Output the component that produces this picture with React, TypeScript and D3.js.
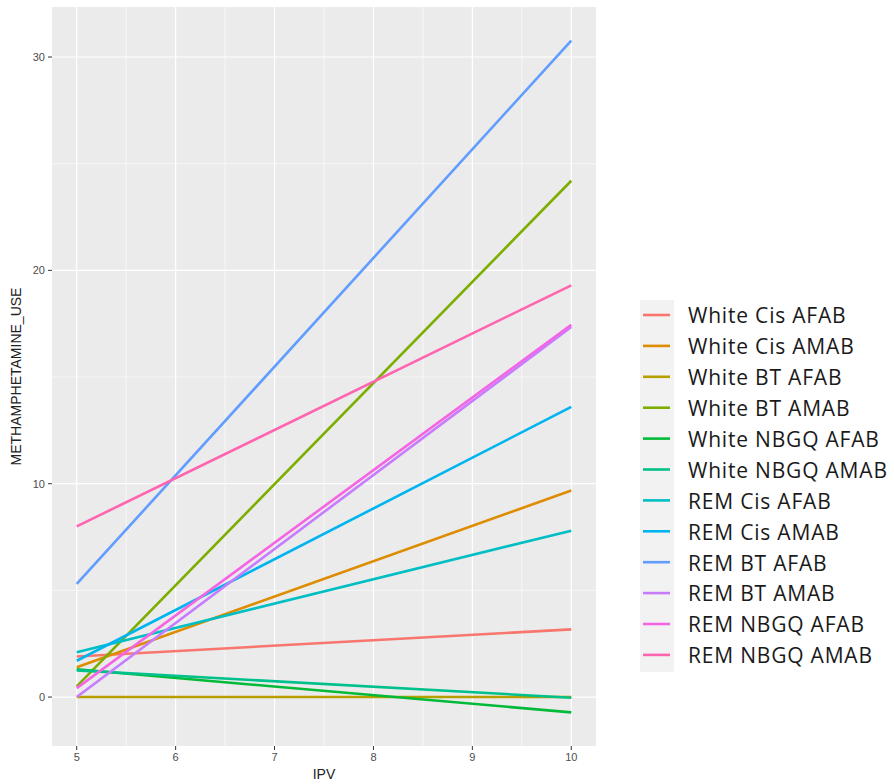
import React from "react";
import * as d3 from "d3";

const groups = [
  "White Cis AFAB",
  "White Cis AMAB",
  "White BT AFAB",
  "White BT AMAB",
  "White NBGQ AFAB",
  "White NBGQ AMAB",
  "REM Cis AFAB",
  "REM Cis AMAB",
  "REM BT AFAB",
  "REM BT AMAB",
  "REM NBGQ AFAB",
  "REM NBGQ AMAB",
];
const colors = [
  "#F8766D", "#DE8C00", "#B79F00", "#7CAE00", "#00BA38", "#00C08B",
  "#00BFC4", "#00B4F0", "#619CFF", "#C77CFF", "#F564E3", "#FF64B0",
];
const ipvValues = [5, 10];
const valuesAt5 = [1.9, 1.4, 0.0, 0.5, 1.3, 1.25, 2.1, 1.7, 5.3, 0.0, 0.42, 8.0];
const valuesAt10 = [3.17, 9.68, 0.0, 24.2, -0.72, -0.03, 7.8, 13.6, 30.77, 17.35, 17.45, 19.3];
const xTicks = [5, 6, 7, 8, 9, 10];
const yTicks = [0, 10, 20, 30];

export default function App() {
  const W = 894, H = 784;
  const left = 52, right = 596, top = 7, bottom = 746;
  const x = d3.scaleLinear().domain([4.75, 10.25]).range([left, right]);
  const yMin = -0.72, yMax = 30.77;
  const pad = (yMax - yMin) * 0.05;
  const y = d3.scaleLinear().domain([yMin - pad, yMax + pad]).range([bottom, top]);
  const line = d3.line<[number, number]>().x((d) => x(d[0])).y((d) => y(d[1]));
  const xMinor = [5.5, 6.5, 7.5, 8.5, 9.5];
  const yMinor = [-5, 5, 15, 25].filter((v) => y(v) > top && y(v) < bottom);

  const legX = 640, legY = 300, rowH = 30.9;
  return (
    <svg width={W} height={H} style={{ position: "absolute", left: 0, top: 0, background: "#fff" }}>
      <rect x={left} y={top} width={right - left} height={bottom - top} fill="#EBEBEB" />
      {xMinor.map((v) => (
        <line key={"xm" + v} x1={x(v)} x2={x(v)} y1={top} y2={bottom} stroke="#fff" strokeWidth={0.6} />
      ))}
      {yMinor.map((v) => (
        <line key={"ym" + v} x1={left} x2={right} y1={y(v)} y2={y(v)} stroke="#fff" strokeWidth={0.6} />
      ))}
      {xTicks.map((v) => (
        <line key={"xg" + v} x1={x(v)} x2={x(v)} y1={top} y2={bottom} stroke="#fff" strokeWidth={1.2} />
      ))}
      {yTicks.map((v) => (
        <line key={"yg" + v} x1={left} x2={right} y1={y(v)} y2={y(v)} stroke="#fff" strokeWidth={1.2} />
      ))}
      {groups.map((g, i) => (
        <path
          key={g}
          d={line([[ipvValues[0], valuesAt5[i]], [ipvValues[1], valuesAt10[i]]]) || ""}
          stroke={colors[i]}
          strokeWidth={2.6}
          fill="none"
        />
      ))}
      {xTicks.map((v) => (
        <g key={"xt" + v}>
          <line x1={x(v)} x2={x(v)} y1={bottom} y2={bottom + 4} stroke="#333" strokeWidth={1} />
          <text x={x(v)} y={bottom + 15} textAnchor="middle" fontFamily="Liberation Sans, Arial, sans-serif" fontSize={11} fill="#4D4D4D">{v}</text>
        </g>
      ))}
      {yTicks.map((v) => (
        <g key={"yt" + v}>
          <line x1={left - 4} x2={left} y1={y(v)} y2={y(v)} stroke="#333" strokeWidth={1} />
          <text x={left - 7} y={y(v)} dy="0.35em" textAnchor="end" fontFamily="Liberation Sans, Arial, sans-serif" fontSize={11} fill="#4D4D4D">{v}</text>
        </g>
      ))}
      <text x={(left + right) / 2} y={779} textAnchor="middle" fontFamily="Liberation Sans, Arial, sans-serif" fontSize={14} fill="#222">IPV</text>
      <text transform={`translate(21,${(top + bottom) / 2}) rotate(-90)`} textAnchor="middle" fontFamily="Liberation Sans, Arial, sans-serif" fontSize={14} fill="#222">METHAMPHETAMINE_USE</text>
      <rect x={legX} y={legY} width={34} height={rowH * 12 + 1} fill="#F2F2F2" />
      {groups.map((g, i) => (
        <g key={"lg" + g}>
          <line x1={legX + 3} x2={legX + 30} y1={legY + 15 + i * rowH} y2={legY + 15 + i * rowH} stroke={colors[i]} strokeWidth={2.6} />
          <text x={688} y={legY + 16 + i * rowH} dy="0.35em" fontFamily="Open Sans, sans-serif" fontSize={21} letterSpacing={0.8} fill="#1A1A1A">{g}</text>
        </g>
      ))}
    </svg>
  );
}
